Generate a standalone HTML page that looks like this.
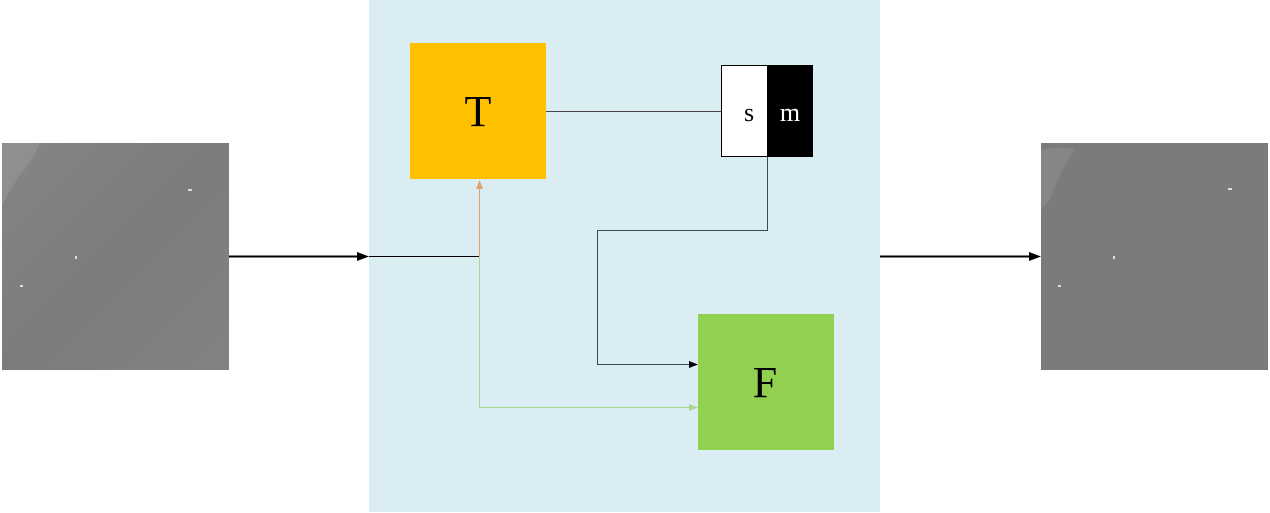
<!DOCTYPE html>
<html><head><meta charset="utf-8"><style>
html,body{margin:0;padding:0;background:#fff;width:1270px;height:513px;overflow:hidden}
</style></head><body>
<svg width="1270" height="513" viewBox="0 0 1270 513" xmlns="http://www.w3.org/2000/svg">
<defs>
<linearGradient id="gl" x1="0" y1="0" x2="1" y2="1">
<stop offset="0" stop-color="#858585"/><stop offset="0.5" stop-color="#7c7c7c"/><stop offset="1" stop-color="#828282"/>
</linearGradient>
</defs>
<rect x="2" y="143" width="227" height="227" fill="url(#gl)"/>
<path d="M2 143 H40 Q30 165 20 175 Q10 190 2 205 Z" fill="#8f8f8f"/>
<rect x="1041" y="143" width="227" height="227" fill="#7b7b7b"/>
<path d="M1041 150 Q1060 145 1075 150 Q1060 170 1050 200 L1041 210 Z" fill="#868686"/>
<rect x="369" y="0" width="511" height="512" fill="#daedf3"/>
<rect x="410" y="43" width="136" height="136" fill="#ffc000"/>
<text x="478" y="126" font-family="Liberation Serif, serif" font-size="44" text-anchor="middle">T</text>
<rect x="721.5" y="65.5" width="46" height="91" fill="#fff" stroke="#000" stroke-width="1"/>
<rect x="767" y="65" width="46" height="92" fill="#000"/>
<text x="749" y="121" font-family="Liberation Serif, serif" font-size="26" text-anchor="middle">s</text>
<text x="790" y="121" font-family="Liberation Serif, serif" font-size="26" text-anchor="middle" fill="#fff">m</text>
<rect x="698" y="314" width="136" height="136" fill="#92d050"/>
<text x="765" y="397" font-family="Liberation Serif, serif" font-size="44" text-anchor="middle">F</text>
<g stroke-width="1" fill="none">
<line x1="229" y1="256.5" x2="360" y2="256.5" stroke="#000" stroke-width="2"/>
<line x1="369" y1="256.5" x2="479" y2="256.5" stroke="#000"/>
<line x1="479.5" y1="256" x2="479.5" y2="186" stroke="#e0a070"/>
<polyline points="479.5,256 479.5,407.5 690,407.5" stroke="#a8d890"/>
<line x1="546" y1="111.5" x2="721" y2="111.5" stroke="#444"/>
<polyline points="767.5,157 767.5,230.5 597.5,230.5 597.5,364.5 691,364.5" stroke="#3a4a55"/>
<line x1="880" y1="256.5" x2="1032" y2="256.5" stroke="#000" stroke-width="2"/>
</g>
<polygon points="369,256.5 357,252 357,261" fill="#000"/>
<polygon points="1041,256.5 1029,252 1029,261" fill="#000"/>
<polygon points="479.5,180 476,189 483,189" fill="#e0a070"/>
<polygon points="698,407.5 689,404 689,411" fill="#a8d890"/>
<polygon points="698,364.5 689,361 689,368" fill="#000"/>
<g fill="#ddd">
<rect x="188" y="189" width="4" height="2"/><rect x="75" y="256" width="2" height="3"/><rect x="20" y="285" width="3" height="2"/>
<rect x="1228" y="188" width="4" height="2"/><rect x="1113" y="256" width="2" height="3"/><rect x="1058" y="285" width="3" height="2"/>
</g>
</svg>
</body></html>
